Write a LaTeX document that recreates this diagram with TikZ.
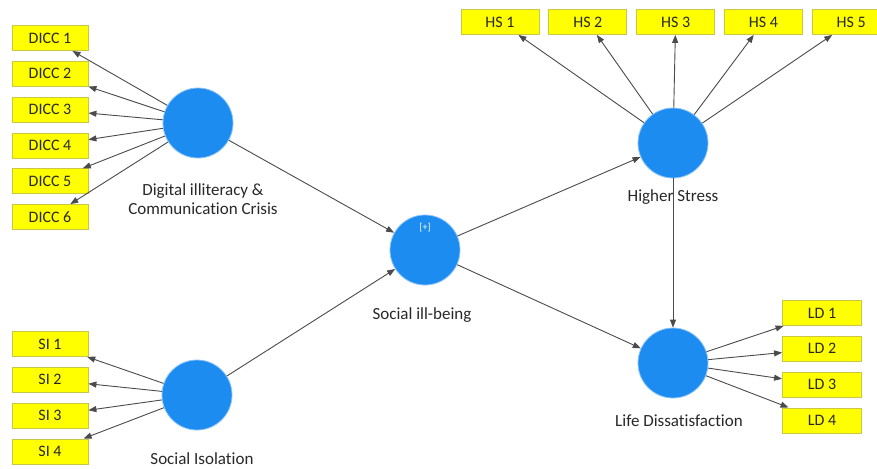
\documentclass[tikz,border=0pt]{standalone}
\usepackage{fontspec}
\setmainfont{Carlito}[Ligatures=NoCommon]
\usetikzlibrary{arrows.meta, positioning}
\definecolor{lvblue}{RGB}{28,140,240}
\definecolor{lvrim}{RGB}{140,195,250}
\definecolor{indyellow}{RGB}{255,255,0}
\definecolor{indrim}{RGB}{200,200,70}
\definecolor{linkgrey}{RGB}{75,75,75}
\definecolor{labeldark}{RGB}{40,40,40}
\tikzset{
  latent/.style={circle, draw=lvrim, fill=lvblue,
    minimum size=70pt, inner sep=0pt, line width=0.8pt},
  indbox/.style={rectangle, draw=indrim, fill=indyellow,
    minimum width=76pt, minimum height=25pt, inner sep=0pt,
    font=\fontsize{16}{18}\selectfont, text=labeldark, line width=0.8pt},
  lvlabel/.style={align=center, font=\fontsize{17}{19}\selectfont, text=labeldark},
  link/.style={-{Triangle[length=8pt,width=6pt]}, line width=0.9pt, color=linkgrey}
}

\begin{document}
\begin{tikzpicture}[x=1pt, y=-1pt, node distance=10pt and 9pt]
  \useasboundingbox[fill=white] (0,0) rectangle (877,468);

  % latent variables
  \node[latent] (dicc) at (198,123) {};
  \node[latent] (si) at (197,395) {};
  \node[latent] (sib) at (425,250) {};
  \node[latent] (hs) at (673,143) {};
  \node[latent] (ld) at (673,363) {};
  \node[text=white, font=\fontsize{10}{11}\selectfont] (plus) at (425,228) {[+]};

  \node[lvlabel] (diccl) at (203,199) {Digital illiteracy \&\\Communication Crisis};
  \node[lvlabel] (sil) at (202,459) {Social Isolation};
  \node[lvlabel] (sibl) at (422,315) {Social ill-being};
  \node[lvlabel] (hsl) at (673,197) {Higher Stress};
  \node[lvlabel] (ldl) at (679,421) {Life Dissatisfaction};

  % indicators
  \node[indbox] (dicc1) at (50,38) {DICC 1};
  \node[indbox, below=of dicc1] (dicc2) {DICC 2};
  \node[indbox, below=of dicc2] (dicc3) {DICC 3};
  \node[indbox, below=of dicc3] (dicc4) {DICC 4};
  \node[indbox, below=of dicc4] (dicc5) {DICC 5};
  \node[indbox, below=of dicc5] (dicc6) {DICC 6};

  \node[indbox] (si1) at (50,344) {SI 1};
  \node[indbox, below=of si1] (si2) {SI 2};
  \node[indbox, below=of si2] (si3) {SI 3};
  \node[indbox, below=of si3] (si4) {SI 4};

  \node[indbox, minimum width=78pt] (hs1) at (500,22) {HS 1};
  \node[indbox, minimum width=78pt, right=of hs1] (hs2) {HS 2};
  \node[indbox, minimum width=78pt, right=of hs2] (hs3) {HS 3};
  \node[indbox, minimum width=78pt, right=of hs3] (hs4) {HS 4};
  \node[indbox, minimum width=78pt, right=of hs4] (hs5) {HS 5};

  \node[indbox, minimum width=79pt] (ld1) at (822,313) {LD 1};
  \node[indbox, minimum width=79pt, below=of ld1] (ld2) {LD 2};
  \node[indbox, minimum width=79pt, below=of ld2] (ld3) {LD 3};
  \node[indbox, minimum width=79pt, below=of ld3] (ld4) {LD 4};

  % outer loadings
  \draw[link] (dicc) -- (dicc1);
  \draw[link] (dicc) -- (dicc2);
  \draw[link] (dicc) -- (dicc3);
  \draw[link] (dicc) -- (dicc4);
  \draw[link] (dicc) -- (dicc5);
  \draw[link] (dicc) -- (dicc6);
  \draw[link] (si) -- (si1);
  \draw[link] (si) -- (si2);
  \draw[link] (si) -- (si3);
  \draw[link] (si) -- (si4);
  \draw[link] (hs) -- (hs1);
  \draw[link] (hs) -- (hs2);
  \draw[link] (hs) -- (hs3);
  \draw[link] (hs) -- (hs4);
  \draw[link] (hs) -- (hs5);
  \draw[link] (ld) -- (ld1);
  \draw[link] (ld) -- (ld2);
  \draw[link] (ld) -- (ld3);
  \draw[link] (ld) -- (ld4);

  % structural paths
  \draw[link] (dicc) -- (sib);
  \draw[link] (si) -- (sib);
  \draw[link] (sib) -- (hs);
  \draw[link] (sib) -- (ld);
  \draw[link] (hs) -- (ld);
\end{tikzpicture}
\end{document}
